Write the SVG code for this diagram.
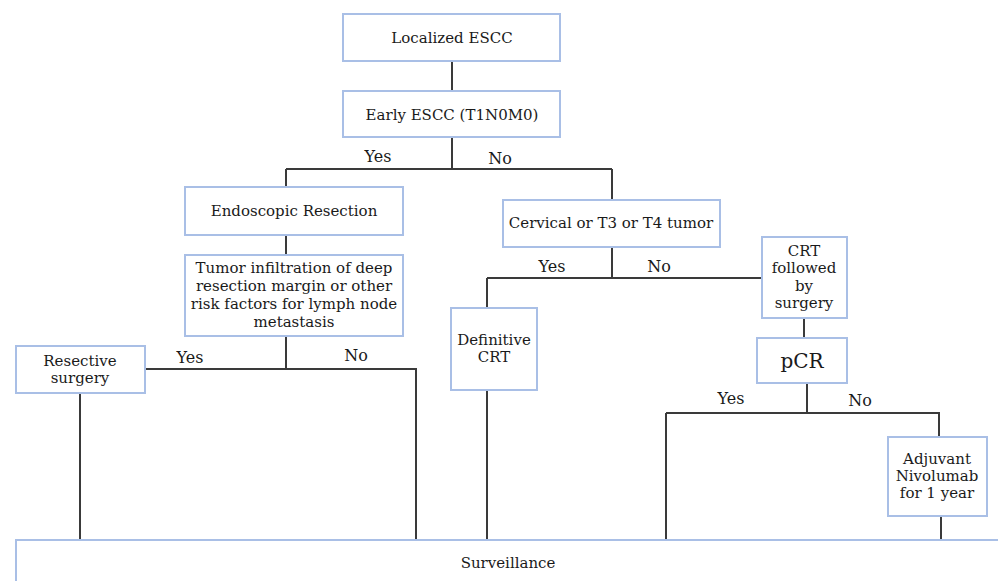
<svg xmlns="http://www.w3.org/2000/svg" width="998" height="581" viewBox="0 0 998 581">
<style>
.box{fill:#fff;stroke:#a9bfe6;stroke-width:2}
.ln{fill:none;stroke:#3a3a3a;stroke-width:2}
text{font-family:"DejaVu Serif","Liberation Serif",serif;font-size:15px;fill:#1a1a1a;text-anchor:middle}
.lbl{font-size:16px}
.big{font-size:20px}
</style>
<rect width="998" height="581" fill="#fff"/>
<g id="connectors">
<path class="ln" d="M452 61V91M452 137V169M286 169H612M286 169V187M612 169V200"/>
<path class="ln" d="M286 235V255M286 336V369M145 369H416V540M80 393V540"/>
<path class="ln" d="M612 247V278M487 278H762M487 278V308M487 390V540"/>
<path class="ln" d="M804 318V338M807 383V413M666 413H939V437M666 413V540M941 516V540"/>
<text class="lbl" x="378" y="162">Yes</text>
<text class="lbl" x="500" y="164">No</text>
<text class="lbl" x="190" y="363">Yes</text>
<text class="lbl" x="356" y="361">No</text>
<text class="lbl" x="552" y="272">Yes</text>
<text class="lbl" x="659" y="272">No</text>
<text class="lbl" x="731" y="404">Yes</text>
<text class="lbl" x="860" y="406">No</text>
</g>
<g id="localized">
<rect class="box" x="343" y="14" width="217" height="47"/>
<text x="452" y="43">Localized ESCC</text>
</g>
<g id="early">
<rect class="box" x="343" y="91" width="217" height="46"/>
<text x="452" y="120">Early ESCC (T1N0M0)</text>
</g>
<g id="endoscopic">
<rect class="box" x="185" y="187" width="218" height="48"/>
<text x="294" y="216">Endoscopic Resection</text>
</g>
<g id="tumor">
<rect class="box" x="185" y="255" width="218" height="81"/>
<text x="294" y="273">Tumor infiltration of deep</text>
<text x="294" y="291">resection margin or other</text>
<text x="294" y="309">risk factors for lymph node</text>
<text x="294" y="327">metastasis</text>
</g>
<g id="resective">
<rect class="box" x="16" y="346" width="129" height="47"/>
<text x="80" y="366">Resective</text>
<text x="80" y="383">surgery</text>
</g>
<g id="cervical">
<rect class="box" x="503" y="200" width="217" height="47"/>
<text x="611" y="228">Cervical or T3 or T4 tumor</text>
</g>
<g id="definitive">
<rect class="box" x="451" y="308" width="86" height="82"/>
<text x="494" y="345">Definitive</text>
<text x="494" y="362">CRT</text>
</g>
<g id="crtsurgery">
<rect class="box" x="762" y="237" width="85" height="81"/>
<text x="804" y="256">CRT</text>
<text x="804" y="273">followed</text>
<text x="804" y="291">by</text>
<text x="804" y="308">surgery</text>
</g>
<g id="pcr">
<rect class="box" x="757" y="338" width="90" height="45"/>
<text class="big" x="802" y="368">pCR</text>
</g>
<g id="adjuvant">
<rect class="box" x="888" y="437" width="99" height="79"/>
<text x="937" y="464">Adjuvant</text>
<text x="937" y="481">Nivolumab</text>
<text x="937" y="498">for 1 year</text>
</g>
<g id="surveillance">
<rect class="box" x="16" y="540" width="990" height="50"/>
<text x="508" y="568">Surveillance</text>
</g>
</svg>
